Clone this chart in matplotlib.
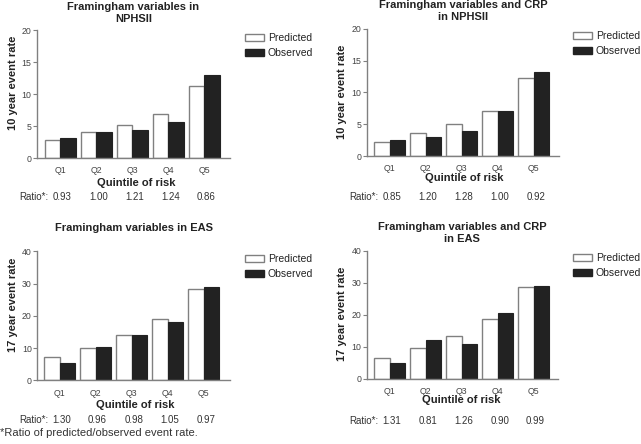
import matplotlib
matplotlib.use("Agg")
import matplotlib.pyplot as plt
import matplotlib.transforms as mtransforms
from matplotlib.patches import Patch
import numpy as np

plt.rcParams['font.family'] = ['Liberation Sans', 'DejaVu Sans']

quintiles = ["Q1", "Q2", "Q3", "Q4", "Q5"]

titles = ["Framingham variables in\nNPHSII",
          "Framingham variables and CRP\nin NPHSII",
          "Framingham variables in EAS",
          "Framingham variables and CRP\nin EAS"]
ylabels = ["10 year event rate", "10 year event rate",
           "17 year event rate", "17 year event rate"]

pred_nphsii = [2.85, 4.05, 5.2, 6.9, 11.25]
obs_nphsii = [3.05, 4.05, 4.35, 5.55, 13.0]
pred_nphsii_crp = [2.15, 3.55, 5.1, 7.05, 12.2]
obs_nphsii_crp = [2.55, 3.0, 4.0, 7.05, 13.25]
pred_eas = [7.1, 9.95, 13.95, 18.9, 28.2]
obs_eas = [5.5, 10.4, 14.15, 18.1, 29.0]
pred_eas_crp = [6.45, 9.6, 13.5, 18.6, 28.8]
obs_eas_crp = [4.9, 12.0, 10.9, 20.6, 28.9]

ratio_nphsii = ["0.93", "1.00", "1.21", "1.24", "0.86"]
ratio_nphsii_crp = ["0.85", "1.20", "1.28", "1.00", "0.92"]
ratio_eas = ["1.30", "0.96", "0.98", "1.05", "0.97"]
ratio_eas_crp = ["1.31", "0.81", "1.26", "0.90", "0.99"]

preds = [pred_nphsii, pred_nphsii_crp, pred_eas, pred_eas_crp]
obss = [obs_nphsii, obs_nphsii_crp, obs_eas, obs_eas_crp]
ratios = [ratio_nphsii, ratio_nphsii_crp, ratio_eas, ratio_eas_crp]
ymaxs = [20, 20, 40, 40]
yticks_list = [[0, 5, 10, 15, 20], [0, 5, 10, 15, 20],
               [0, 10, 20, 30, 40], [0, 10, 20, 30, 40]]

W, H = 641, 444
fig = plt.figure(figsize=(W / 100, H / 100), dpi=100)

def fx(px):
    return px / W

def fy(py):
    return 1 - py / H

# axes boxes in pixels: left, right, top, bottom
boxes = [(37, 230, 30, 158), (366.7, 559, 28.7, 156),
         (37.3, 230, 251.3, 380.3), (366.7, 558, 250.7, 378.7)]
first_bar_gap = [8, 7.6, 7, 7.6]
title_y = [13, 11, 228, 233]
ylabel_pos = [(13, 83), (342, 92), (13, 305), (342, 314)]
xlabel_pos = [(136, 183), (464, 178), (135, 405), (461, 400)]
ratio_y = [197, 197, 420, 421]
legend_pos = [(245, 33), (573, 31), (245, 254), (573, 253)]

spine_col = "#808080"
txt_col = "#222222"
obs_col = "#222222"
w = 0.43
x = np.arange(len(quintiles))

for i in range(4):
    l, r, t, b = boxes[i]
    ax = fig.add_axes([fx(l), fy(b), fx(r - l), (b - t) / H])
    ppu = 36.0
    left = -(w * ppu + first_bar_gap[i]) / ppu
    ax.set_xlim(left, left + (r - l) / ppu)
    ax.set_ylim(0, ymaxs[i])
    ax.bar(x - w / 2, preds[i], width=w, facecolor="white",
           edgecolor=spine_col, linewidth=1.0)
    ax.bar(x + w / 2, obss[i], width=w, facecolor=obs_col,
           edgecolor=obs_col, linewidth=0.8)
    for s in ["top", "right"]:
        ax.spines[s].set_visible(False)
    for s in ["left", "bottom"]:
        ax.spines[s].set_color(spine_col)
        ax.spines[s].set_linewidth(1.0)
    ax.set_yticks(yticks_list[i])
    ax.set_xticks(x)
    ax.set_xticklabels(quintiles)
    ax.tick_params(axis="y", length=3, width=0.8, color=spine_col,
                   labelsize=6.3, labelcolor="#444444", pad=1)
    ax.tick_params(axis="x", length=0, labelsize=6.3, labelcolor="#444444", pad=6)

    fig.text(fx((l + r) / 2), fy(title_y[i]), titles[i],
             ha="center", va="center", fontsize=8, fontweight="bold",
             color=txt_col, linespacing=1.15)
    fig.text(fx(ylabel_pos[i][0]), fy(ylabel_pos[i][1]), ylabels[i],
             ha="center", va="center", rotation=90, fontsize=8,
             fontweight="bold", color=txt_col)
    fig.text(fx(xlabel_pos[i][0]), fy(xlabel_pos[i][1]), "Quintile of risk",
             ha="center", va="center", fontsize=8, fontweight="bold",
             color=txt_col)

    trans = mtransforms.blended_transform_factory(ax.transData, fig.transFigure)
    ax.text(-0.33, fy(ratio_y[i]), "Ratio*:", transform=trans, ha="right",
            va="center", fontsize=7, color="#333333")
    for k, rv in enumerate(ratios[i]):
        ax.text(x[k] + 0.05, fy(ratio_y[i]), rv, transform=trans, ha="center",
                va="center", fontsize=7, color="#333333")

    handles = [Patch(facecolor="white", edgecolor=spine_col, linewidth=1.0),
               Patch(facecolor=obs_col, edgecolor=obs_col)]
    fig.legend(handles, ["Predicted", "Observed"], loc="upper left",
               bbox_to_anchor=(fx(legend_pos[i][0]), fy(legend_pos[i][1])),
               bbox_transform=fig.transFigure, frameon=False, borderpad=0,
               borderaxespad=0, handlelength=1.8, handleheight=0.65,
               handletextpad=0.4, labelspacing=0.45, fontsize=7.5,
               labelcolor=txt_col)

fig.text(0.0, fy(433), "*Ratio of predicted/observed event rate.",
         ha="left", va="center", fontsize=8, color="#333333")

fig.savefig("out.png", dpi=100)
